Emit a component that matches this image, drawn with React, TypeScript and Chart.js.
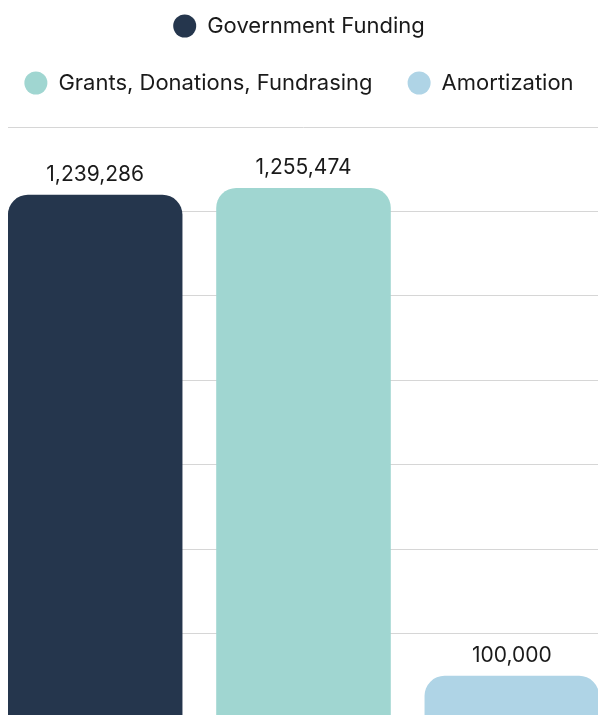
import React, { useEffect, useRef } from "react";
import { Chart, registerables } from "chart.js";

Chart.register(...registerables);

const categories = [""];
const seriesNames = ["Government Funding", "Grants, Donations, Fundrasing", "Amortization"];
const seriesValues = [1239286, 1255474, 100000];
const seriesColors = ["#25364d", "#a0d6d1", "#afd4e6"];
const yMax = 1400000;
const yStep = 200000;

const FONT = "Inter, 'Liberation Sans', sans-serif";
const LEGEND_GAP = 23;

const legendSpacer = {
  id: "legendSpacer",
  beforeInit(chart: any) {
    const legend = chart.legend;
    if (!legend) return;
    const fit = legend.fit;
    legend.fit = function () {
      fit.call(this);
      this.height += LEGEND_GAP;
    };
  },
};

const valueLabels = {
  id: "valueLabels",
  afterDatasetsDraw(chart: any) {
    const ctx = chart.ctx;
    ctx.save();
    ctx.font = `21px ${FONT}`;
    ctx.fillStyle = "#1a1a1a";
    ctx.textAlign = "center";
    ctx.textBaseline = "middle";
    chart.data.datasets.forEach((ds: any, i: number) => {
      const meta = chart.getDatasetMeta(i);
      meta.data.forEach((bar: any, j: number) => {
        const v = ds.data[j];
        if (v == null) return;
        ctx.fillText(Number(v).toLocaleString("en-US"), bar.x, bar.y - 20);
      });
    });
    ctx.restore();
  },
};

export default function App() {
  const ref = useRef<HTMLCanvasElement | null>(null);

  useEffect(() => {
    if (!ref.current) return;
    const chart = new Chart(ref.current, {
      type: "bar",
      data: {
        labels: categories,
        datasets: seriesNames.map((name, i) => ({
          label: name,
          data: [seriesValues[i]],
          backgroundColor: seriesColors[i],
          borderWidth: 0,
          borderRadius: 20,
          categoryPercentage: 1,
          barPercentage: 0.838,
        })),
      },
      options: {
        responsive: false,
        animation: false,
        layout: { padding: 0 },
        plugins: {
          legend: {
            position: "top",
            align: "center",
            labels: {
              usePointStyle: true,
              pointStyle: "circle",
              pointStyleWidth: 23,
              boxHeight: 16.3,
              padding: 35,
              color: "#1a1a1a",
              font: { family: FONT, size: 22 },
            },
          },
          tooltip: { enabled: false },
          title: { display: false },
        },
        scales: {
          x: { display: false },
          y: {
            min: 0,
            max: yMax,
            ticks: { display: false, stepSize: yStep },
            grid: { color: "#d6d6d6", lineWidth: 1, drawTicks: true, tickLength: 9 },
            border: { display: false },
          },
        },
      },
      plugins: [legendSpacer, valueLabels],
    });
    return () => chart.destroy();
  }, []);

  return (
    <div
      style={{
        position: "fixed",
        left: 8,
        top: 0,
        width: 590,
        height: 715,
        overflow: "hidden",
        background: "#fff",
      }}
    >
      <canvas
        ref={ref}
        width={634}
        height={738}
        style={{ position: "absolute", left: -26, top: -20, width: 634, height: 738 }}
      />
    </div>
  );
}
